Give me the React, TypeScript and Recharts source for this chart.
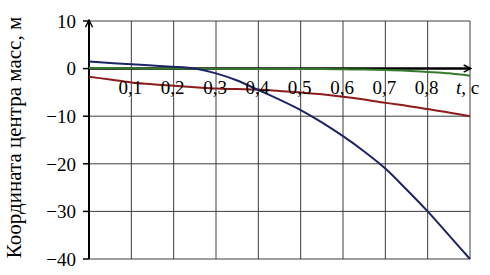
import { LineChart, Line, XAxis, YAxis, CartesianGrid, ReferenceLine, ReferenceDot } from 'recharts';

// time, s
const times = [0, 0.05, 0.1, 0.15, 0.2, 0.25, 0.3, 0.35, 0.4, 0.45, 0.5, 0.55, 0.6, 0.65, 0.7, 0.75, 0.8, 0.85, 0.9];

// centre-of-mass coordinates, m
const blueSeries = [1.5, 1.2, 0.9, 0.65, 0.4, 0.0, -1.0, -2.5, -4.5, -6.5, -8.7, -11.3, -14.2, -17.4, -21.0, -25.4, -30.0, -35.0, -40.0];
const redSeries = [-1.7, -2.3, -2.9, -3.3, -3.6, -3.9, -4.2, -4.3, -4.4, -4.7, -5.0, -5.4, -5.9, -6.5, -7.2, -7.8, -8.5, -9.2, -10.0];
const greenSeries = [0.1, 0.1, 0.05, 0, 0, 0, -0.05, -0.1, -0.1, -0.1, -0.1, -0.1, -0.15, -0.2, -0.3, -0.45, -0.7, -1.0, -1.5];

const xTicks = [0, 0.1, 0.2, 0.3, 0.4, 0.5, 0.6, 0.7, 0.8, 0.9];
const xTickLabels = ['0,1', '0,2', '0,3', '0,4', '0,5', '0,6', '0,7', '0,8'];
const xLabelAt = [0.1, 0.2, 0.3, 0.4, 0.5, 0.6, 0.7, 0.8];
const yTicks = [-40, -30, -20, -10, 0, 10];
const yAxisTitle = 'Координата центра масс, м';

const COLORS = {
  blue: '#1d2466',
  red: '#8e1b1b',
  green: '#357a2c',
  grid: '#3c3c3c',
};

const FONT = 'Liberation Serif';

const data = times.map((t, i) => ({
  t,
  blue: blueSeries[i],
  red: redSeries[i],
  green: greenSeries[i],
}));

const fmtY = (v: number) => (v < 0 ? `\u2212${Math.abs(v)}` : String(v));

export default function App() {
  return (
    <div style={{ position: 'absolute', left: 0, top: 0, background: '#fff' }}>
      <style>{`.chart-root text, .chart-root tspan { font-family: "${FONT}", serif !important; }`}</style>
      <div className="chart-root">
        <LineChart width={490} height={275} data={data} margin={{ top: 21, right: 20, bottom: 16, left: 0 }}>
          <defs>
            <marker id="arrowHead" viewBox="0 0 10 10" refX="8" refY="5" markerWidth="10" markerHeight="9" markerUnits="userSpaceOnUse" orient="auto">
              <path d="M1,1 L9,5 L1,9" fill="none" stroke="#000" strokeWidth={1.6} />
            </marker>
          </defs>
          <CartesianGrid stroke={COLORS.grid} strokeWidth={1} vertical={false} />
          <XAxis
            dataKey="t"
            type="number"
            domain={[0, 0.9]}
            ticks={xTicks}
            height={0}
            axisLine={false}
            tickLine={false}
            tick={false}
          />
          <YAxis
            type="number"
            domain={[-40, 10]}
            ticks={yTicks}
            width={89}
            axisLine={false}
            tickLine={{ stroke: '#000', strokeWidth: 1.5 }}
            tickSize={6}
            tickMargin={7}
            tickFormatter={fmtY}
            tick={{ fill: '#000', fontSize: 19 }}
            label={{
              value: yAxisTitle,
              content: ({ viewBox }: any) => {
                const cy = viewBox.y + viewBox.height / 2 - 2.5;
                return (
                  <text x={20.5} y={cy} transform={`rotate(-90, 20.5, ${cy})`} textAnchor="middle" fill="#000" fontSize={21}>
                    {yAxisTitle}
                  </text>
                );
              },
            }}
          />
          {xTicks.slice(1).map((x) => (
            <ReferenceLine key={`g${x}`} x={x} stroke={COLORS.grid} strokeWidth={1} />
          ))}
          <ReferenceLine x={0} stroke="#000" strokeWidth={2} markerEnd="url(#arrowHead)" />
          <ReferenceLine y={0} stroke="#000" strokeWidth={2.5} markerEnd="url(#arrowHead)" />
          <Line type="monotone" dataKey="green" stroke={COLORS.green} strokeWidth={2} dot={false} isAnimationActive={false} />
          <Line type="monotone" dataKey="red" stroke={COLORS.red} strokeWidth={2} dot={false} isAnimationActive={false} />
          <Line type="monotone" dataKey="blue" stroke={COLORS.blue} strokeWidth={2} dot={false} isAnimationActive={false} />
          {xLabelAt.map((x, i) => (
            <ReferenceDot
              key={x}
              x={x}
              y={0}
              r={0}
              fill="none"
              stroke="none"
              label={{
                value: xTickLabels[i],
                content: ({ viewBox }: any) => (
                  <text x={viewBox.x - 1} y={viewBox.y + 25.5} textAnchor="middle" fill="#000" fontSize={19}>
                    {xTickLabels[i]}
                  </text>
                ),
              }}
            />
          ))}
          <ReferenceDot
            x={0.9}
            y={0}
            r={0}
            fill="none"
            stroke="none"
            label={{
              value: 't, c',
              content: ({ viewBox }: any) => (
                <text x={viewBox.x - 14} y={viewBox.y + 25.5} textAnchor="start" fill="#000" fontSize={19}>
                  <tspan fontStyle="italic">t</tspan>, c
                </text>
              ),
            }}
          />
        </LineChart>
      </div>
    </div>
  );
}
